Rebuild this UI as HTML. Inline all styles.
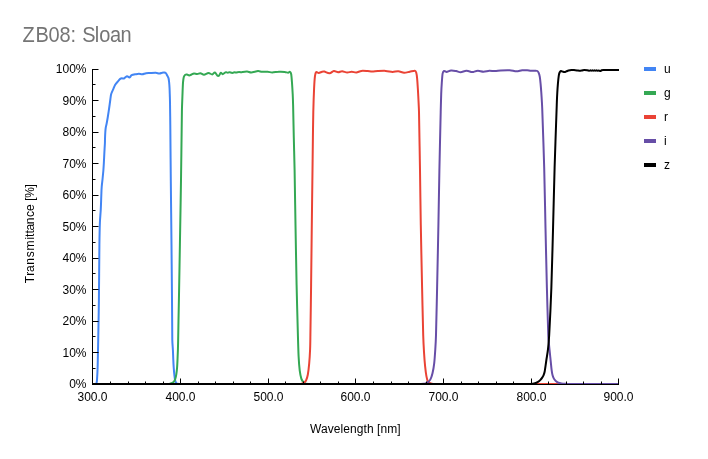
<!DOCTYPE html>
<html lang="en">
<head>
<meta charset="utf-8">
<title>ZB08: Sloan</title>
<style>
html,body{margin:0;padding:0;background:#ffffff;}
body{width:708px;height:459px;overflow:hidden;font-family:"Liberation Sans",sans-serif;}
</style>
</head>
<body>
<svg width="708" height="459" viewBox="0 0 708 459" style="display:block;font-family:'Liberation Sans',sans-serif">
<rect width="708" height="459" fill="#ffffff"/>
<text transform="translate(0,41.6) scale(1,1.07)" x="22.5 35.5 48.5 59.5 70.5 76 82.3 94.8 99.3 110.1 120.6" y="0" font-size="20" fill="#757575">ZB08: Sloan</text>
<rect x="644" y="67" width="12" height="4" fill="#4285f4"/>
<text x="664" y="73" font-size="12" fill="#000000">u</text>
<rect x="644" y="91" width="12" height="4" fill="#34a853"/>
<text x="664" y="97" font-size="12" fill="#000000">g</text>
<rect x="644" y="115" width="12" height="4" fill="#ea4335"/>
<text x="664" y="121" font-size="12" fill="#000000">r</text>
<rect x="644" y="139" width="12" height="4" fill="#674ea7"/>
<text x="664" y="145" font-size="12" fill="#000000">i</text>
<rect x="644" y="163" width="12" height="4" fill="#000000"/>
<text x="664" y="169" font-size="12" fill="#000000">z</text>
<g font-size="12" fill="#000000">
<text x="86.5" y="388" text-anchor="end">0%</text>
<text x="86.5" y="357" text-anchor="end">10%</text>
<text x="86.5" y="325" text-anchor="end">20%</text>
<text x="86.5" y="294" text-anchor="end">30%</text>
<text x="86.5" y="262" text-anchor="end">40%</text>
<text x="86.5" y="231" text-anchor="end">50%</text>
<text x="86.5" y="199" text-anchor="end">60%</text>
<text x="86.5" y="168" text-anchor="end">70%</text>
<text x="86.5" y="136" text-anchor="end">80%</text>
<text x="86.5" y="105" text-anchor="end">90%</text>
<text x="86.5" y="73" text-anchor="end">100%</text>
<text x="92.5" y="401" text-anchor="middle">300.0</text>
<text x="180.5" y="401" text-anchor="middle">400.0</text>
<text x="268.5" y="401" text-anchor="middle">500.0</text>
<text x="355.5" y="401" text-anchor="middle">600.0</text>
<text x="443.5" y="401" text-anchor="middle">700.0</text>
<text x="531.5" y="401" text-anchor="middle">800.0</text>
<text x="618.5" y="401" text-anchor="middle">900.0</text>
<text x="310" y="433" textLength="90.6" lengthAdjust="spacing">Wavelength [nm]</text>
<text x="0 7.35 11.2 18.5 25.9 32.6 43.6 46.2 49.6 52.7 59 66.2 72.2 79.2 82.5 85.5 95.6" y="0" transform="translate(34,283.2) rotate(-90)">Transmittance [%]</text>
</g>
<g fill="none" stroke-width="2" stroke-linejoin="round" stroke-linecap="butt">
<path d="M93,384C93,384 95.17,384.12 95.6,384C96.03,383.88 96.35,383.42 96.5,383C96.65,382.58 96.93,381.01 97,380C97.07,378.99 97.56,370 97.7,365C97.84,360 98.12,345 98.3,335C98.48,325 98.76,311.67 98.9,300C99.04,288.33 99.3,252.5 99.4,245C99.5,237.5 99.72,227.01 99.9,222.5C100.08,217.99 100.57,213.5 100.8,209C101.03,204.5 101.18,198.33 101.3,195.5C101.42,192.67 101.48,189.83 101.7,187C101.92,184.17 102.32,181.33 102.6,178.5C102.88,175.67 103.21,172.33 103.4,170C103.59,167.67 103.72,165.33 103.85,163C103.98,160.67 104.25,154.83 104.4,152C104.55,149.17 104.83,145 104.9,143.5C104.97,142 104.95,140.5 105,139C105.05,137.5 105.21,133.74 105.3,132.3C105.39,130.86 105.48,129.42 105.7,128C105.92,126.58 106.33,125.21 106.6,123.8C106.87,122.39 107.43,119.27 107.8,117C108.17,114.73 108.69,111.34 109.1,108.5C109.51,105.66 110.16,100.67 110.4,99C110.64,97.33 110.72,95.62 111.2,94C111.68,92.38 112.8,90.3 113.4,88.9C114,87.5 114.44,85.96 115.2,84.7C115.96,83.44 117.29,82.12 118,81.3C118.71,80.48 119.72,79.27 120.2,78.9C120.68,78.53 121.3,78.36 121.9,78.3C122.5,78.24 123.35,78.77 124,78.5C124.65,78.23 126.08,76.37 127,76.2C127.92,76.03 128.58,77.7 129.5,77.5C130.42,77.3 130.68,75.68 131.6,75.2C132.52,74.72 134.91,74.39 135.9,74.2C136.89,74.01 137.89,73.8 138.9,73.8C139.91,73.8 141.16,74.29 142.3,74.2C143.44,74.11 144.81,73.4 146.1,73.2C147.39,73 148.7,73.07 150,73C151.3,72.93 154.57,72.62 155.8,72.7C157.03,72.78 158.42,73.6 159.4,73.6C160.38,73.6 161.56,72.85 162.2,72.7C162.84,72.55 163.54,72.43 164.15,72.5C164.76,72.57 165.46,72.67 165.9,73.1C166.34,73.53 166.78,74.69 167.2,75.5C167.62,76.31 168.23,77.17 168.5,78.1C168.77,79.03 168.96,80.69 169.1,82C169.24,83.31 169.44,86.06 169.55,88.1C169.66,90.14 169.73,92.8 169.8,95.1C169.87,97.4 169.96,99.7 170,102C170.04,104.3 170.22,117.33 170.3,125C170.38,132.67 170.62,161.67 170.8,180C170.98,198.33 171.32,226.67 171.5,245C171.68,263.33 171.89,286.67 172,300C172.11,313.33 172.24,336.66 172.3,340C172.36,343.34 172.75,347.1 172.9,350C173.05,352.9 173.12,355.8 173.25,358.7C173.38,361.6 173.49,364.5 173.7,367.4C173.91,370.3 174.33,374.62 174.5,376.1C174.67,377.58 174.97,379.62 175.2,380.5C175.43,381.38 176.03,382.62 176.3,383C176.57,383.38 177.06,383.56 177.5,383.7C177.94,383.84 179.5,384 179.5,384" stroke="#4285f4"/>
<path d="M165,384C165,384 167.33,383.95 168,383.9C168.67,383.85 169.34,383.76 170,383.6C170.66,383.44 171.58,383.2 172.2,382.9C172.82,382.6 173.47,382.25 173.9,381.7C174.33,381.15 174.94,379.96 175.25,379C175.56,378.04 176.05,375.95 176.3,374.4C176.55,372.85 176.91,369.74 177.1,367.4C177.29,365.06 177.42,361.6 177.55,358.7C177.68,355.8 177.81,352.9 177.9,350C177.99,347.1 178.08,343.33 178.15,340C178.22,336.67 178.38,326.67 178.5,320C178.62,313.33 178.78,306.67 178.9,300C179.02,293.33 179.58,263.33 179.9,245C180.22,226.67 180.67,201.67 181,180C181.33,158.33 181.8,118 181.9,112C182,106 182.36,97.77 182.5,94C182.64,90.23 182.85,84.61 183,82.7C183.15,80.79 183.55,77.88 183.8,77C184.05,76.12 184.85,75.05 185.3,74.7C185.75,74.35 186.44,74.39 187,74.5C187.56,74.61 188.49,75.5 189.3,75.5C190.11,75.5 190.76,74.83 191.5,74.5C192.24,74.17 193.09,73.47 194,73.4C194.91,73.33 196.11,74.07 197.2,74.05C198.29,74.03 199.31,73.2 200.4,73.3C201.49,73.4 202.71,74.75 204,74.7C205.29,74.65 207.18,73.05 208.5,73C209.82,72.95 211.08,74.49 212.2,74.4C213.32,74.31 213.91,72.19 215,72.5C216.09,72.81 216.82,76.03 218.2,76.1C219.58,76.17 219.95,73.12 220.7,72.8C221.45,72.48 221.89,74.28 222.7,74.2C223.51,74.12 225.3,72.42 225.5,72.3C225.7,72.18 225.97,72.16 226.2,72.2C226.43,72.24 227.31,72.7 227.9,72.7C228.49,72.7 229.01,72.17 229.6,72.2C230.19,72.23 231.34,72.88 232.2,72.9C233.06,72.92 234.13,72.34 234.7,72.3C235.27,72.26 235.83,72.65 236.4,72.6C236.97,72.55 238.04,71.95 238.9,71.9C239.76,71.85 241.15,72.29 241.5,72.3C241.85,72.31 242.15,72.04 242.5,72C242.85,71.96 245.7,71.52 247.1,71.6C248.5,71.68 249.8,72.56 251.2,72.5C252.6,72.44 256.65,71.19 258,71.1C259.35,71.01 260.65,71.72 262,71.8C263.35,71.88 266.18,71.6 267.7,71.7C269.22,71.8 270.68,72.5 272.2,72.5C273.72,72.5 277.1,71.79 279,71.7C280.9,71.61 283.54,71.76 284.7,71.9C285.86,72.04 287.38,72.81 288.1,72.8C288.82,72.79 289.35,71.51 290,71.8C290.65,72.09 291.04,73.32 291.2,74.2C291.36,75.08 291.79,79.86 292,82.7C292.21,85.54 292.52,90.34 292.7,94C292.88,97.66 293.01,101.33 293.1,105C293.19,108.67 293.55,126.8 293.8,137.6C294.05,148.4 294.39,159.2 294.6,170C294.81,180.8 295.18,206.67 295.5,225C295.82,243.33 296.24,268.33 296.6,285C296.96,301.67 297.7,327.93 297.9,335C298.1,342.07 298.36,351.46 298.6,356.2C298.84,360.94 299.35,367.53 299.7,370.4C300.05,373.27 301.05,377.76 301.4,378.9C301.75,380.04 302.86,381.52 303.2,382C303.54,382.48 304.05,382.93 304.5,383.2C304.95,383.47 305.49,383.58 306,383.7C306.51,383.82 308,384 308,384" stroke="#34a853"/>
<path d="M299,384C299,384 300.88,383.83 301.5,383.7C302.12,383.57 302.75,383.38 303.3,383.1C303.85,382.82 304.36,382.44 304.8,382C305.24,381.56 305.83,380.96 306.1,380.3C306.37,379.64 307.45,376.62 307.8,374.7C308.15,372.78 308.86,367.11 309.2,363.3C309.54,359.49 309.9,353.91 310.1,349.2C310.3,344.49 310.33,339.73 310.4,335C310.47,330.27 310.89,301.67 311.1,285C311.31,268.33 311.58,243.33 311.8,225C312.02,206.67 312.36,180.8 312.5,170C312.64,159.2 312.78,146.13 312.9,137.6C313.02,129.07 313.11,119.9 313.3,112C313.49,104.1 313.91,92.44 314.1,88.3C314.29,84.16 314.83,77.22 315,75.9C315.17,74.58 315.5,72.65 316.2,72.1C316.9,71.55 317.82,73.06 318.7,73C319.58,72.94 321.32,71.89 322.1,71.7C322.88,71.51 323.72,71.43 324.5,71.6C325.28,71.77 328.01,73.4 329.6,73.3C331.19,73.2 332.32,71.19 333.8,71C335.28,70.81 336.73,72.15 338.1,72.2C339.47,72.25 340.73,71.25 342.1,71.3C343.47,71.35 345.68,72.44 347.2,72.5C348.72,72.56 350.18,71.7 351.7,71.7C353.22,71.7 354.75,72.63 356.3,72.5C357.85,72.37 359.63,71.12 361.4,70.9C363.17,70.68 366.09,71 367.6,71.1C369.11,71.2 370.59,71.6 372.1,71.6C373.61,71.6 375.9,71.2 377.8,71.1C379.7,71 383.41,70.78 385.7,70.9C387.99,71.02 390.56,71.84 392.5,71.9C394.44,71.96 396.36,71.17 398.3,71.3C400.24,71.43 402.2,72.63 404.1,72.7C406,72.77 408,72 409.7,71.7C411.4,71.4 414.07,70.71 414.8,70.8C415.53,70.89 415.98,71.8 416.2,72.5C416.42,73.2 416.91,76.22 417.1,78.1C417.29,79.98 417.67,85.74 417.9,89.5C418.13,93.26 418.32,97.07 418.5,100.8C418.68,104.53 418.92,108.26 419,112C419.08,115.74 419.71,151.67 420,170C420.29,188.33 420.47,206.67 420.8,225C421.13,243.33 421.76,272.33 422.1,288C422.44,303.67 423.03,329.33 423.2,335C423.37,340.67 423.71,347.26 424,352C424.29,356.74 424.77,362.89 425.1,366.2C425.43,369.51 426.06,374.26 426.4,376.1C426.74,377.94 427.61,380.88 427.9,381.5C428.19,382.12 429.04,382.5 429.5,382.8C429.96,383.1 430.47,383.33 431,383.5C431.53,383.67 432.34,383.82 433,383.9C433.66,383.98 435,384 435,384" stroke="#ea4335"/>
<path d="M532,384L562,384" stroke="#ea4335"/>
<path d="M421,384C421,384 422.83,383.89 423.5,383.8C424.17,383.71 424.85,383.6 425.5,383.4C426.15,383.2 426.94,383.05 427.5,382.6C428.06,382.15 429.66,380.81 430.3,379.6C430.94,378.39 431.98,375.39 432.5,373.2C433.02,371.01 433.81,366.63 434.2,363.3C434.59,359.97 435,353.9 435.3,349.2C435.6,344.5 435.86,339.74 436,335C436.14,330.26 436.76,303.67 437.1,288C437.44,272.33 438.04,243.33 438.4,225C438.76,206.67 439.03,188.33 439.4,170C439.77,151.67 440.56,118 440.7,112C440.84,106 441.06,97.77 441.2,94C441.34,90.23 441.59,85.74 441.8,82.7C442.01,79.66 442.42,74.57 442.6,73.6C442.78,72.63 443.16,71.36 444,71C444.84,70.64 445.69,71.96 446.6,71.9C447.51,71.84 449.53,70.63 451.1,70.5C452.67,70.37 454.68,70.83 456.2,71.1C457.72,71.37 459.16,72.25 460.7,72.2C462.24,72.15 464.65,70.83 466.4,70.8C468.15,70.77 470.87,71.9 471.5,72C472.13,72.1 472.78,72.02 473.4,71.9C474.02,71.78 476.36,70.83 477.9,70.8C479.44,70.77 481.68,71.7 483.6,71.7C485.52,71.7 487.43,70.9 489.3,70.8C491.17,70.7 493.03,71.17 494.9,71.1C496.77,71.03 498.69,70.52 500.6,70.4C502.51,70.28 507.41,70.07 509.7,70.2C511.99,70.33 514.6,71.3 516.5,71.3C518.4,71.3 520.41,70.36 522.1,70.2C523.79,70.04 525.93,70.21 527.2,70.3C528.47,70.39 529.72,70.74 531,70.8C532.28,70.86 534.46,70.68 535.2,70.7C535.94,70.72 536.77,70.61 537.4,71C538.03,71.39 538.41,72.19 538.7,72.9C538.99,73.61 539.57,75.47 539.8,76.8C540.03,78.13 540.38,81.46 540.6,83.8C540.82,86.14 541.09,89.6 541.3,92.5C541.51,95.4 541.78,100 541.9,102C542.02,104 542.13,106 542.2,108C542.27,110 543.65,148 544.2,168C544.75,188 545.05,208 545.5,228C545.95,248 546.49,272 546.9,288C547.31,304 548.21,333.43 548.3,336C548.39,338.57 548.67,341.14 548.9,343.7C549.13,346.26 549.5,349.5 549.8,352.4C550.1,355.3 550.4,358.2 550.7,361.1C551,364 551.38,368.19 551.6,369.9C551.82,371.61 552.17,373.76 552.5,375C552.83,376.24 553.52,377.86 553.9,378.6C554.28,379.34 554.95,380.11 555.4,380.6C555.85,381.09 556.4,381.55 556.9,381.9C557.4,382.25 557.92,382.61 558.5,382.8C559.08,382.99 560.49,383.24 561.5,383.4C562.51,383.56 564,383.71 565,383.8C566,383.89 567,384 568,384C569,384 619,384 619,384" stroke="#674ea7"/>
<path d="M93,384C93,384 528,384 529,384C530,384 531.33,383.87 532,383.8C532.67,383.73 533.39,383.63 534,383.5C534.61,383.37 535.21,383.21 535.8,383C536.39,382.79 537.05,382.56 537.6,382.2C538.15,381.84 539.45,380.85 540.2,380.1C540.95,379.35 541.66,378.4 542.2,377.6C542.74,376.8 543.23,375.95 543.6,375.05C543.97,374.15 544.47,372.72 544.7,371.5C544.93,370.28 545.76,364.17 546.3,360.5C546.84,356.83 547.57,352.98 548,349.2C548.43,345.42 548.94,339.74 549.2,335C549.46,330.26 550.79,303.67 551.35,288C551.91,272.33 552.51,248 553.05,228C553.59,208 554,188 554.6,168C555.2,148 556.72,106 556.75,105C556.78,104 556.81,103 556.85,102C556.89,101 557.13,95.4 557.3,92.5C557.47,89.6 557.67,86.44 557.9,83.8C558.13,81.16 558.58,77.06 558.75,75.9C558.92,74.74 559.33,73.11 559.6,72.5C559.87,71.89 560.29,71.18 560.9,71C561.51,70.82 562.11,71.43 562.7,71.6C563.29,71.77 563.88,72.1 564.5,72.05C565.12,72 565.84,71.56 566.5,71.3C567.16,71.04 567.81,70.7 568.5,70.5C569.19,70.3 570.4,69.97 571.3,69.9C572.2,69.83 573.1,70.02 574,70.1C574.9,70.18 576.07,70.3 577,70.4C577.93,70.5 579.06,70.75 579.8,70.75C580.54,70.75 581.27,70.54 582,70.4C582.73,70.26 583.52,69.93 584.3,69.9C585.08,69.87 586.32,70.07 587.1,70.2C587.88,70.33 589,70.74 589.4,70.75C589.8,70.76 590.14,70.31 590.5,70.3C590.86,70.29 591.14,70.7 591.5,70.7C591.86,70.7 592.14,70.3 592.5,70.3C592.86,70.3 593.14,70.7 593.5,70.7C593.86,70.7 594.14,70.3 594.5,70.3C594.86,70.3 595.14,70.7 595.5,70.7C595.86,70.7 596.14,70.3 596.5,70.3C596.86,70.3 597.15,70.68 597.5,70.7C597.85,70.72 598.15,70.38 598.5,70.4C598.85,70.42 599.17,70.7 599.5,70.8C599.83,70.9 600.17,71.08 600.5,71C600.83,70.92 601.11,70.42 601.5,70.3C601.89,70.18 602.7,70.11 603.3,70.1C603.9,70.09 619,70 619,70" stroke="#000000"/>
</g>
<g fill="#000000">
<rect x="92" y="69" width="1" height="316"/>
<rect x="92" y="384" width="527" height="1"/>
<rect x="93" y="352" width="5.5" height="1"/>
<rect x="93" y="321" width="5.5" height="1"/>
<rect x="93" y="289" width="5.5" height="1"/>
<rect x="93" y="258" width="5.5" height="1"/>
<rect x="93" y="226" width="5.5" height="1"/>
<rect x="93" y="195" width="5.5" height="1"/>
<rect x="93" y="163" width="5.5" height="1"/>
<rect x="93" y="132" width="5.5" height="1"/>
<rect x="93" y="100" width="5.5" height="1"/>
<rect x="93" y="69" width="5.5" height="1"/>
<rect x="93" y="368" width="2.5" height="1"/>
<rect x="93" y="336" width="2.5" height="1"/>
<rect x="93" y="305" width="2.5" height="1"/>
<rect x="93" y="273" width="2.5" height="1"/>
<rect x="93" y="242" width="2.5" height="1"/>
<rect x="93" y="210" width="2.5" height="1"/>
<rect x="93" y="179" width="2.5" height="1"/>
<rect x="93" y="147" width="2.5" height="1"/>
<rect x="93" y="116" width="2.5" height="1"/>
<rect x="93" y="84" width="2.5" height="1"/>
<rect x="110" y="381.5" width="1" height="2.5"/>
<rect x="128" y="381.5" width="1" height="2.5"/>
<rect x="145" y="381.5" width="1" height="2.5"/>
<rect x="163" y="381.5" width="1" height="2.5"/>
<rect x="180" y="378.5" width="1" height="5.5"/>
<rect x="198" y="381.5" width="1" height="2.5"/>
<rect x="215" y="381.5" width="1" height="2.5"/>
<rect x="233" y="381.5" width="1" height="2.5"/>
<rect x="250" y="381.5" width="1" height="2.5"/>
<rect x="268" y="378.5" width="1" height="5.5"/>
<rect x="285" y="381.5" width="1" height="2.5"/>
<rect x="303" y="381.5" width="1" height="2.5"/>
<rect x="320" y="381.5" width="1" height="2.5"/>
<rect x="338" y="381.5" width="1" height="2.5"/>
<rect x="355" y="378.5" width="1" height="5.5"/>
<rect x="373" y="381.5" width="1" height="2.5"/>
<rect x="391" y="381.5" width="1" height="2.5"/>
<rect x="408" y="381.5" width="1" height="2.5"/>
<rect x="426" y="381.5" width="1" height="2.5"/>
<rect x="443" y="378.5" width="1" height="5.5"/>
<rect x="461" y="381.5" width="1" height="2.5"/>
<rect x="478" y="381.5" width="1" height="2.5"/>
<rect x="496" y="381.5" width="1" height="2.5"/>
<rect x="513" y="381.5" width="1" height="2.5"/>
<rect x="531" y="378.5" width="1" height="5.5"/>
<rect x="548" y="381.5" width="1" height="2.5"/>
<rect x="566" y="381.5" width="1" height="2.5"/>
<rect x="583" y="381.5" width="1" height="2.5"/>
<rect x="601" y="381.5" width="1" height="2.5"/>
<rect x="618" y="378.5" width="1" height="5.5"/>
</g>
</svg>
</body>
</html>
